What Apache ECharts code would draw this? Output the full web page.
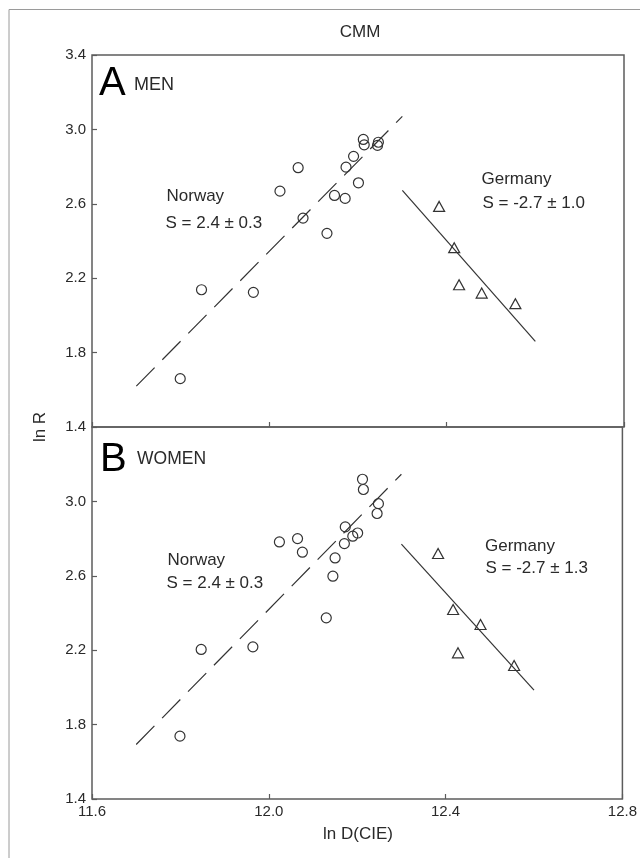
<!DOCTYPE html>
<html>
<head>
<meta charset="utf-8">
<script src="https://cdn.jsdelivr.net/npm/echarts@6/dist/echarts.min.js"></script>
<style>
  html, body { margin: 0; padding: 0; background: #fff; }
  #chart { width: 640px; height: 858px; }
</style>
</head>
<body>
<div id="chart"></div>
<script>
// Axis ticks
const xTicks = [11.6, 12.0, 12.4, 12.8];
const yTicksMen = [1.4, 1.8, 2.2, 2.6, 3.0, 3.4];
const yTicksWomen = [1.4, 1.8, 2.2, 2.6, 3.0];

// Panel A: men — [ln D(CIE), ln R]
const norwayMen = [
  [11.799, 1.660], [11.847, 2.138], [11.964, 2.124], [12.024, 2.668],
  [12.065, 2.794], [12.076, 2.523], [12.130, 2.441], [12.147, 2.645],
  [12.171, 2.629], [12.173, 2.797], [12.190, 2.855], [12.201, 2.713],
  [12.212, 2.946], [12.214, 2.917], [12.246, 2.931], [12.244, 2.914]
];
const germanyMen = [
  [12.383, 2.586], [12.417, 2.364], [12.428, 2.165], [12.479, 2.120], [12.555, 2.063]
];
const norwayMenFit = [[11.70, 1.620], [12.30, 3.070]];
const germanyMenFit = [[12.30, 2.672], [12.60, 1.860]];

// Panel B: women
const norwayWomen = [
  [11.799, 1.738], [11.847, 2.204], [11.964, 2.218], [12.024, 2.782],
  [12.065, 2.800], [12.076, 2.727], [12.130, 2.374], [12.145, 2.598],
  [12.150, 2.696], [12.171, 2.773], [12.173, 2.863], [12.190, 2.813],
  [12.201, 2.830], [12.212, 3.119], [12.214, 3.064], [12.248, 2.988],
  [12.245, 2.935]
];
const germanyWomen = [
  [12.383, 2.720], [12.417, 2.419], [12.479, 2.338], [12.428, 2.186], [12.555, 2.118]
];
const norwayWomenFit = [[11.70, 1.693], [12.30, 3.146]];
const germanyWomenFit = [[12.30, 2.770], [12.60, 1.985]];

const FONT = '"Liberation Sans", Arial, Helvetica, sans-serif';
const INK = '#2a2a2a';
const AXIS = '#5c5c5c';

const chart = echarts.init(document.getElementById('chart'), null, { renderer: 'canvas' });

function xAxisFor(gridIndex, showLabels) {
  return {
    type: 'value', gridIndex: gridIndex, min: 11.6, max: 12.8, interval: 0.4,
    axisLine: { show: false },
    splitLine: { show: false },
    axisTick: { show: true, inside: true, length: 5, customValues: xTicks,
                lineStyle: { color: AXIS, width: 1.2 } },
    axisLabel: { show: showLabels, customValues: xTicks, margin: 5,
                 color: INK, fontSize: 15, fontFamily: FONT,
                 formatter: function (v) { return v.toFixed(1); } }
  };
}
function yAxisFor(gridIndex, ticks) {
  return {
    type: 'value', gridIndex: gridIndex, min: 1.4, max: 3.4, interval: 0.2,
    axisLine: { show: false },
    splitLine: { show: false },
    axisTick: { show: true, inside: true, length: 5, customValues: ticks,
                lineStyle: { color: AXIS, width: 1.2 } },
    axisLabel: { show: true, customValues: ticks, margin: 6,
                 color: INK, fontSize: 15, fontFamily: FONT,
                 formatter: function (v) { return v.toFixed(1); } }
  };
}
function circles(data, idx) {
  return {
    type: 'scatter', xAxisIndex: idx, yAxisIndex: idx, data: data,
    symbol: 'circle', symbolSize: 10,
    itemStyle: { color: 'rgba(255,255,255,0)', borderColor: '#333', borderWidth: 1.2, opacity: 1 },
    z: 3
  };
}
function triangles(data, idx) {
  return {
    type: 'scatter', xAxisIndex: idx, yAxisIndex: idx, data: data,
    symbol: 'triangle', symbolSize: [11, 10],
    itemStyle: { color: 'rgba(255,255,255,0)', borderColor: '#333', borderWidth: 1.2, opacity: 1 },
    z: 3
  };
}
function fitLine(data, idx, dashed) {
  return {
    type: 'line', xAxisIndex: idx, yAxisIndex: idx, data: data,
    symbol: 'none', silent: true,
    lineStyle: { color: '#333', width: 1.2, type: dashed ? [26, 11] : 'solid' },
    z: 2
  };
}
function label(text, x, y, size, color) {
  return {
    type: 'text', x: x, y: y, silent: true,
    style: { text: text, fill: color || INK, font: size + 'px ' + FONT,
             align: 'left', verticalAlign: 'middle',
             textAlign: 'left', textVerticalAlign: 'middle' }
  };
}

chart.setOption({
  animation: false,
  backgroundColor: '#fff',
  grid: [
    { left: 92, top: 55, width: 532, height: 372, show: true,
      borderColor: AXIS, borderWidth: 1.5, backgroundColor: 'transparent' },
    { left: 92, top: 427, width: 532, height: 372, show: true,
      borderColor: AXIS, borderWidth: 1.5, backgroundColor: 'transparent' }
  ],
  xAxis: [xAxisFor(0, false), xAxisFor(1, true)],
  yAxis: [yAxisFor(0, yTicksMen), yAxisFor(1, yTicksWomen)],
  series: [
    fitLine(norwayMenFit, 0, true),
    fitLine(germanyMenFit, 0, false),
    circles(norwayMen, 0),
    triangles(germanyMen, 0),
    fitLine(norwayWomenFit, 1, true),
    fitLine(germanyWomenFit, 1, false),
    circles(norwayWomen, 1),
    triangles(germanyWomen, 1)
  ],
  graphic: [
    // outer frame
    { type: 'rect', shape: { x: 9, y: 9.5, width: 700, height: 900 },
      style: { fill: 'none', stroke: '#9a9a9a', lineWidth: 1 }, silent: true },
    { type: 'text', x: 360, y: 32, silent: true,
      style: { text: 'CMM', fill: INK, font: '17px ' + FONT,
               align: 'center', verticalAlign: 'middle',
               textAlign: 'center', textVerticalAlign: 'middle' } },
    { type: 'text', x: 40, y: 427, rotation: Math.PI / 2, silent: true,
      style: { text: 'ln R', fill: INK, font: '17px ' + FONT,
               align: 'center', verticalAlign: 'middle',
               textAlign: 'center', textVerticalAlign: 'middle' } },
    { type: 'text', x: 358, y: 834, silent: true,
      style: { text: 'ln D(CIE)', fill: INK, font: '17px ' + FONT,
               align: 'center', verticalAlign: 'middle',
               textAlign: 'center', textVerticalAlign: 'middle' } },
    label('A', 99, 84, 40, '#000'),
    label('MEN', 134, 85, 18),
    label('B', 100, 460, 40, '#000'),
    label('WOMEN', 137, 459.5, 17.5),
    label('Norway', 166.5, 196.5, 17),
    label('S = 2.4 \u00b1 0.3', 165.5, 223.5, 17),
    label('Germany', 481.5, 179.5, 17),
    label('S = -2.7 \u00b1 1.0', 482.5, 203.5, 17),
    label('Norway', 167.5, 560, 17),
    label('S = 2.4 \u00b1 0.3', 166.5, 583.5, 17),
    label('Germany', 485, 546.5, 17),
    label('S = -2.7 \u00b1 1.3', 485.5, 568.5, 17)
  ]
});
</script>
</body>
</html>
